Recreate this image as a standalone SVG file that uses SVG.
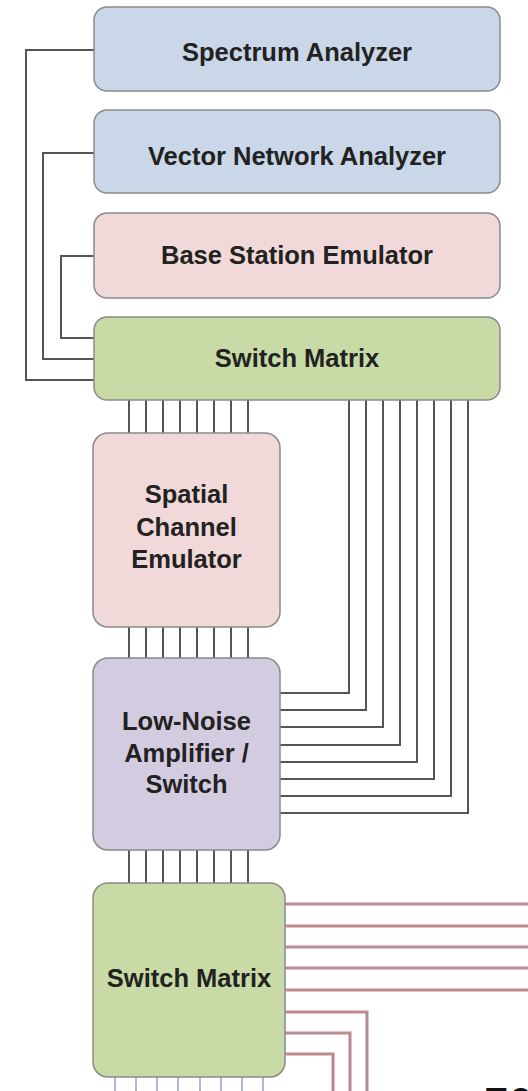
<svg xmlns="http://www.w3.org/2000/svg" width="528" height="1091" viewBox="0 0 528 1091">
<style>
.box{stroke:#8a8a8a;stroke-width:1.5}
.blue{fill:#c9d7e8}
.pink{fill:#f1d9d9}
.green{fill:#c8dba6}
.lav{fill:#d3cce0}
.lbl{font-family:"Liberation Sans",Arial,sans-serif;font-weight:bold;font-size:25.5px;fill:#222;text-anchor:middle}
.wire{fill:none;stroke:#555;stroke-width:2}
.redo{fill:none;stroke:#e2a9b0;stroke-width:3.5}
.redi{fill:none;stroke:#8a7878;stroke-width:1.2}
.bl{fill:none;stroke:#a9b8d6;stroke-width:2}
</style>
<rect width="528" height="1091" fill="#ffffff"/>
<g id="connectors">
  <path class="wire" d="M94 50H26V380H94"/>
  <path class="wire" d="M94 153H43V359H94"/>
  <path class="wire" d="M94 256H61V338H94"/>
  <path class="wire" d="M129 400V433M146 400V433M163 400V433M180 400V433M197 400V433M214 400V433M231 400V433M248 400V433"/>
  <path class="wire" d="M129 627V658M146 627V658M163 627V658M180 627V658M197 627V658M214 627V658M231 627V658M248 627V658"/>
  <path class="wire" d="M129 850V883M146 850V883M163 850V883M180 850V883M197 850V883M214 850V883M231 850V883M248 850V883"/>
  <path class="wire" d="M349 400V693H280M366 400V710H280M383 400V727H280M400 400V745H280M417 400V762H280M434 400V779H280M451 400V796H280M468 400V813H280"/>
  <g>
    <path class="redo" d="M285 904H528M285 926H528M285 947H528M285 968H528M285 990H528M285 1012H367V1091M285 1033H350V1091M285 1054H333V1091"/>
    <path class="redi" d="M285 904H528M285 926H528M285 947H528M285 968H528M285 990H528M285 1012H367V1091M285 1033H350V1091M285 1054H333V1091"/>
  </g>
  <path class="bl" d="M115 1077V1091M136 1077V1091M157 1077V1091M178 1077V1091M200 1077V1091M221 1077V1091M242 1077V1091M263 1077V1091"/>
</g>
<g id="spectrum-analyzer">
  <rect class="box blue" x="94" y="7" width="406" height="84" rx="13"/>
  <text class="lbl" x="297" y="61">Spectrum Analyzer</text>
</g>
<g id="vector-network-analyzer">
  <rect class="box blue" x="94" y="110" width="406" height="83" rx="13"/>
  <text class="lbl" x="297" y="165">Vector Network Analyzer</text>
</g>
<g id="base-station-emulator">
  <rect class="box pink" x="94" y="213" width="406" height="85" rx="13"/>
  <text class="lbl" x="297" y="264">Base Station Emulator</text>
</g>
<g id="switch-matrix-top">
  <rect class="box green" x="94" y="317" width="406" height="83" rx="13"/>
  <text class="lbl" x="297" y="367">Switch Matrix</text>
</g>
<g id="spatial-channel-emulator">
  <rect class="box pink" x="93" y="433" width="187" height="194" rx="15"/>
  <text class="lbl" x="186.5" y="503">Spatial</text>
  <text class="lbl" x="186.5" y="536">Channel</text>
  <text class="lbl" x="186.5" y="568">Emulator</text>
</g>
<g id="lna-switch">
  <rect class="box lav" x="93" y="658" width="187" height="192" rx="15"/>
  <text class="lbl" x="186.5" y="730">Low-Noise</text>
  <text class="lbl" x="186.5" y="762">Amplifier /</text>
  <text class="lbl" x="186.5" y="793">Switch</text>
</g>
<g id="switch-matrix-bottom">
  <rect class="box green" x="93" y="883" width="192" height="194" rx="15"/>
  <text class="lbl" x="189" y="987">Switch Matrix</text>
</g>
<text x="484" y="1119" font-family="Liberation Sans,Arial,sans-serif" font-size="44" fill="#111">70</text>
</svg>
